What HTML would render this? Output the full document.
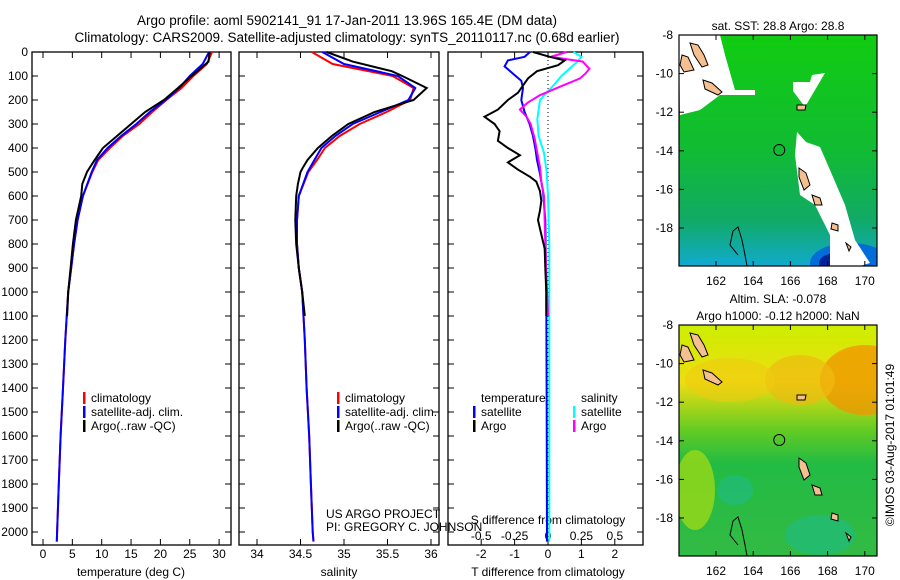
<!DOCTYPE html>
<html><head><meta charset="utf-8"><style>
body{margin:0;background:#fff;}
svg{display:block;font-family:"Liberation Sans",sans-serif;}
text{font-size:12px;fill:#000;}
</style></head><body>
<svg id="fig" width="900" height="580" viewBox="0 0 900 580" xmlns="http://www.w3.org/2000/svg">
<text x="347" y="25" text-anchor="middle" style="font-size:13.5px">Argo profile: aoml 5902141_91 17-Jan-2011 13.96S 165.4E (DM data)</text>
<text x="347" y="42" text-anchor="middle" style="font-size:13.5px">Climatology: CARS2009. Satellite-adjusted climatology: synTS_20110117.nc (0.68d earlier)</text>
<g id="g1"></g><g id="g2"></g><g id="g3"></g><g id="m1"></g><g id="m2"></g>
<text transform="translate(894,445) rotate(-90)" text-anchor="middle">©IMOS 03-Aug-2017 01:01:49</text>
</svg>
<script>
const NS="http://www.w3.org/2000/svg";
// ---- data ----
const depthTicks=[0,100,200,300,400,500,600,700,800,900,1000,1100,1200,1300,1400,1500,1600,1700,1800,1900,2000];
const tempTicks=[0,5,10,15,20,25,30];
const salTicks=[34,34.5,35,35.5,36];
const tdTicks=[-2,-1,0,1,2];
const sdTickLabels=["-0.5","-0.25","0","0.25","0.5"];
const sdTicks=[-0.5,-0.25,0,0.25,0.5];
const climDepth=[0,50,100,150,200,250,300,350,400,450,500,600,700,800,900,1000,1200,1400,1600,1800,2000,2040];
const climTemp=[28.8,27.9,25.6,23.6,21,18.6,16.4,13.6,11.4,9.4,8.4,6.8,5.9,5.3,4.8,4.3,3.8,3.4,3.0,2.7,2.4,2.35];
const satTemp=[28.3,27.2,25.0,23.2,20.9,18.2,15.9,13.3,11.0,9.2,8.3,6.8,5.9,5.3,4.8,4.3,3.8,3.4,3.0,2.7,2.4,2.35];
const argoDepth=[0,40,80,100,150,200,250,300,350,400,450,480,500,550,600,700,800,900,1000,1100];
const argoTemp=[28.4,28.2,26.3,25.3,23.0,20.6,17.4,15.0,12.6,10.2,8.8,8.0,7.5,6.7,6.5,5.6,5.1,4.7,4.3,4.1];
const climSal=[34.63,34.87,35.56,35.8,35.76,35.49,35.18,34.95,34.78,34.69,34.59,34.48,34.46,34.46,34.48,34.52,34.55,34.57,34.6,34.62,34.64,34.65];
const satSal=[34.75,35.0,35.62,35.82,35.74,35.42,35.1,34.9,34.74,34.66,34.58,34.48,34.46,34.46,34.48,34.52,34.55,34.57,34.6,34.62,34.64,34.65];
const argoSal=[34.8,35.1,35.55,35.67,35.95,35.8,35.35,35.05,34.86,34.7,34.58,34.53,34.5,34.47,34.45,34.44,34.45,34.48,34.52,34.55];
const tdArgoDepth=[0,20,35,55,80,110,140,170,200,240,270,300,330,370,400,430,460,490,520,540,580,620,660,700,760,820,900,1000,1100];
const tdArgo=[-0.45,0.05,0.5,0.3,-0.33,-0.6,-0.75,-0.9,-1.2,-1.5,-1.9,-1.6,-1.45,-1.5,-1.2,-0.84,-1.2,-0.9,-0.54,-0.35,-0.24,-0.2,-0.24,-0.3,-0.2,-0.1,-0.08,-0.05,-0.05];
const tdSatDepth=[0,20,35,60,90,120,150,200,250,300,350,400,450,500,580,700,1000,1500,2040];
const tdSat=[-0.54,-0.7,-1.2,-1.3,-1.05,-0.8,-0.75,-0.8,-0.7,-0.55,-0.45,-0.38,-0.33,-0.25,-0.15,-0.08,-0.05,-0.04,-0.03];
const sdArgoDepth=[0,20,40,70,90,110,140,180,210,240,270,300,360,420,480,540,600,800,1100];
const sdArgo=[0.14,0.02,0.26,0.31,0.28,0.24,0.11,-0.06,-0.15,-0.21,-0.16,-0.13,-0.1,-0.08,-0.06,-0.05,-0.03,-0.02,0.0];
const sdSatDepth=[0,20,40,70,100,140,200,280,350,420,500,600,800,1200,2040];
const sdSat=[0.19,0.25,0.22,0.16,0.1,0.04,-0.06,-0.08,-0.07,-0.03,-0.01,0.0,0.01,0.01,0.01];
const lonTicks=[162,164,166,168,170];
const latTicks=[-8,-10,-12,-14,-16,-18];

function el(tag,attrs,parent,txt){const e=document.createElementNS(NS,tag);for(const k in attrs)e.setAttribute(k,attrs[k]);if(txt!==undefined)e.textContent=txt;parent.appendChild(e);return e;}
const Y0=52,PY=0.24,YB=545;
const yD=d=>Y0+d*PY;
function frame(g,x0,x1,name){
  const r=el('rect',{x:x0,y:Y0,width:x1-x0,height:YB-Y0,fill:'none',stroke:'#000','stroke-width':1.3},g);
  
  
  depthTicks.forEach(d=>{el('line',{x1:x0,x2:x0+6,y1:yD(d),y2:yD(d),stroke:'#000'},g);el('line',{x1:x1-6,x2:x1,y1:yD(d),y2:yD(d),stroke:'#000'},g);});
}
function line(g,xs,ds,fx,color,name,w){
  const pts=xs.map((v,i)=>fx(v).toFixed(1)+','+yD(ds[i]).toFixed(1)).join(' ');
  const p=el('polyline',{points:pts,fill:'none',stroke:color,'stroke-width':w||2},g);
  
  
}
function xticks(g,ticks,labels,fx,ly){
  ticks.forEach((t,i)=>{const x=fx(t);el('line',{x1:x,x2:x,y1:YB,y2:YB-6,stroke:'#000'},g);el('line',{x1:x,x2:x,y1:Y0,y2:Y0+6,stroke:'#000'},g);
    const tx=el('text',{x:x,y:ly,'text-anchor':'middle'},g,labels[i]);});
}
function legend(g,x,y,color,label){
  el('rect',{x:x,y:y-10,width:2.5,height:12,fill:color},g);
  const t=el('text',{x:x+8,y:y},g,label);
}
// Panel 1 temperature
const g1=document.getElementById('g1');
const fT=v=>43+v*5.87;
frame(g1,32,231,'temperature-axes');
depthTicks.forEach(d=>{const t=el('text',{x:28,y:yD(d)+4,'text-anchor':'end'},g1,String(d));});
xticks(g1,tempTicks,tempTicks.map(String),fT,558);
el('text',{x:131,y:576,'text-anchor':'middle',},g1,'temperature (deg C)');
line(g1,climTemp,climDepth,fT,'#f00','clim-temp-line');
line(g1,satTemp,climDepth,fT,'#00f','sat-temp-line');
line(g1,argoTemp,argoDepth,fT,'#000','argo-temp-line');
legend(g1,83,402,'#f00','climatology');legend(g1,83,416,'#00f','satellite-adj. clim.');legend(g1,83,430,'#000','Argo(..raw -QC)');
// Panel 2 salinity
const g2=document.getElementById('g2');
const fS=v=>257+(v-34)*87;
frame(g2,239,439,'salinity-axes');
xticks(g2,salTicks,salTicks.map(String),fS,558);
el('text',{x:339,y:576,'text-anchor':'middle',},g2,'salinity');
line(g2,climSal,climDepth,fS,'#f00','clim-sal-line');
line(g2,satSal,climDepth,fS,'#00f','sat-sal-line');
line(g2,argoSal,argoDepth,fS,'#000','argo-sal-line');
legend(g2,337,402,'#f00','climatology');legend(g2,337,416,'#00f','satellite-adj. clim.');legend(g2,337,430,'#000','Argo(..raw -QC)');
el('text',{x:326,y:518,},g2,'US ARGO PROJECT');
el('text',{x:326,y:531,},g2,'PI: GREGORY C. JOHNSON');
// Panel 3 differences
const g3=document.getElementById('g3');
const fD=v=>548+v*33.4, fSD=v=>548+v*133.6;
frame(g3,448,643,'difference-axes');
el('line',{x1:548,x2:548,y1:Y0,y2:YB,stroke:'#000','stroke-dasharray':'1,3',},g3);
xticks(g3,tdTicks,tdTicks.map(String),fD,558);
sdTicks.forEach((t,i)=>{const tx=el('text',{x:fSD(t),y:540,'text-anchor':'middle'},g3,sdTickLabels[i]);});
el('text',{x:548,y:524,'text-anchor':'middle',},g3,'S difference from climatology');
el('text',{x:548,y:576,'text-anchor':'middle',},g3,'T difference from climatology');
line(g3,sdSat,sdSatDepth,fSD,'#0ff','sat-sal-diff-line');
line(g3,tdSat,tdSatDepth,fD,'#00f','sat-temp-diff-line');
line(g3,sdArgo,sdArgoDepth,fSD,'#f0f','argo-sal-diff-line');
line(g3,tdArgo,tdArgoDepth,fD,'#000','argo-temp-diff-line');
el('text',{x:481,y:402,},g3,'temperature');
el('text',{x:581,y:402,},g3,'salinity');
legend(g3,473,416,'#00f','satellite');legend(g3,473,430,'#000','Argo');
legend(g3,573,416,'#0ff','satellite');legend(g3,573,430,'#f0f','Argo');
// Maps
function map(gid,y0,kind,titles){
  const g=document.getElementById(gid);
  const x0=679,x1=877,h=231;
  const fx=l=>716+(l-162)*18.6, fy=la=>y0+(-8-la)*19.3;
  const defs=el('defs',{},g);
  const pre=gid;
  const cp=el('clipPath',{id:pre+'clip'},defs);
  el('rect',{x:x0,y:y0,width:x1-x0,height:h},cp);
  if(kind==='sst'){
    const lg=el('linearGradient',{id:pre+'lg',x1:0,y1:0,x2:0,y2:1},defs);
    el('stop',{offset:'0','stop-color':'#11cc11'},lg);el('stop',{offset:'0.5','stop-color':'#11bb33'},lg);el('stop',{offset:'0.8','stop-color':'#11aa66'},lg);el('stop',{offset:'1','stop-color':'#11aacc'},lg);
  } else {
    const lg=el('linearGradient',{id:pre+'lg',x1:0,y1:0,x2:0,y2:1},defs);
    el('stop',{offset:'0','stop-color':'#ccee00'},lg);el('stop',{offset:'0.25','stop-color':'#eedd11'},lg);el('stop',{offset:'0.45','stop-color':'#66cc22'},lg);el('stop',{offset:'0.6','stop-color':'#22bb44'},lg);el('stop',{offset:'1','stop-color':'#33bb44'},lg);
  }
  const cg=el('g',{'clip-path':`url(#${pre}clip)`},g);
  const bg=el('rect',{x:x0,y:y0,width:x1-x0,height:h,fill:`url(#${pre}lg)`},cg);
  
  
  if(kind==='sst'){
    el('ellipse',{cx:850,cy:y0+228,rx:40,ry:20,fill:'#0066dd',opacity:0.9},cg);
    el('ellipse',{cx:837,cy:y0+228,rx:18,ry:10,fill:'#002299'},cg);
    el('ellipse',{cx:720,cy:y0+230,rx:40,ry:8,fill:'#11aacc',opacity:0.7},cg);
    el('polygon',{points:`${x0},${y0} 720,${y0} 725,${y0+20} 735,${y0+55} 755,${y0+55} 755,${y0+60} 720,${y0+60} 700,${y0+75} 680,${y0+80}`,fill:'#fff'},cg);
    el('polygon',{points:`793,${y0+47} 810,${y0+47} 812,${y0+40} 825,${y0+38} 805,${y0+72} 793,${y0+56}`,fill:'#fff'},cg);
    el('polygon',{points:`797,${y0+97} 806,${y0+107} 820,${y0+112} 830,${y0+135} 845,${y0+170} 855,${y0+205} 870,${y0+228} 860,${y0+231} 830,${y0+231} 830,${y0+200} 815,${y0+170} 800,${y0+160} 795,${y0+120}`,fill:'#fff'},cg);
  } else {
    el('ellipse',{cx:865,cy:y0+55,rx:45,ry:35,fill:'#ee9900',opacity:0.8},cg);
    el('ellipse',{cx:800,cy:y0+55,rx:35,ry:25,fill:'#eebb11',opacity:0.7},cg);
    el('ellipse',{cx:730,cy:y0+55,rx:45,ry:22,fill:'#eecc11',opacity:0.6},cg);
    el('ellipse',{cx:695,cy:y0+165,rx:20,ry:40,fill:'#aadd11',opacity:0.7},cg);
    el('ellipse',{cx:735,cy:y0+165,rx:18,ry:15,fill:'#22bb77',opacity:0.8},cg);
    el('ellipse',{cx:820,cy:y0+210,rx:35,ry:20,fill:'#22bb77',opacity:0.8},cg);
  }
  const isl=[[[690,8],[698,10],[704,20],[708,30],[702,32],[694,20]],[[682,20],[688,22],[694,35],[684,37],[680,30]],[[703,45],[712,48],[722,57],[718,60],[705,54]],[[797,70],[806,70],[805,75],[797,75]],[[799,133],[806,138],[810,150],[804,155],[799,142]],[[812,160],[820,163],[822,170],[815,170]],[[832,188],[838,190],[838,196],[831,194]],[[846,208],[851,212],[849,216]]];
  isl.forEach(pts=>{const p=el('polygon',{points:pts.map(q=>q[0]+','+(y0+q[1])).join(' '),fill:'#f5c090',stroke:'#000','stroke-width':1},cg);});
  el('polyline',{points:`733,${y0+196} 738,${y0+192} 742,${y0+205} 745,${y0+220} 747,${y0+231}`,fill:'none',stroke:'#000','stroke-width':1},cg);
  el('polyline',{points:`733,${y0+196} 730,${y0+210} 738,${y0+220}`,fill:'none',stroke:'#000','stroke-width':1},cg);
  const c=el('circle',{cx:fx(165.4),cy:fy(-13.96),r:5.5,fill:'none',stroke:'#000','stroke-width':1},g);
  
  el('rect',{x:x0,y:y0,width:x1-x0,height:h,fill:'none',stroke:'#000','stroke-width':1.2},g);
  lonTicks.forEach(l=>{const x=fx(l);el('line',{x1:x,x2:x,y1:y0,y2:y0+5,stroke:'#000'},g);el('line',{x1:x,x2:x,y1:y0+h,y2:y0+h-5,stroke:'#000'},g);
    const t=el('text',{x:x,y:y0+h+19,'text-anchor':'middle'},g,String(l));});
  latTicks.forEach(la=>{const y=fy(la);el('line',{x1:x0,x2:x0+5,y1:y,y2:y,stroke:'#000'},g);el('line',{x1:x1-5,x2:x1,y1:y,y2:y,stroke:'#000'},g);
    const t=el('text',{x:673,y:y+4,'text-anchor':'end'},g,String(la));});
  titles.forEach((s,i)=>{const t=el('text',{x:778,y:y0-(titles.length-i)*17+12,'text-anchor':'middle'},g,s);});
}
map('m1',35,'sst',['sat. SST: 28.8  Argo: 28.8']);
map('m2',325,'sla',['Altim. SLA: -0.078','Argo h1000: -0.12 h2000: NaN']);
</script>
</body></html>
